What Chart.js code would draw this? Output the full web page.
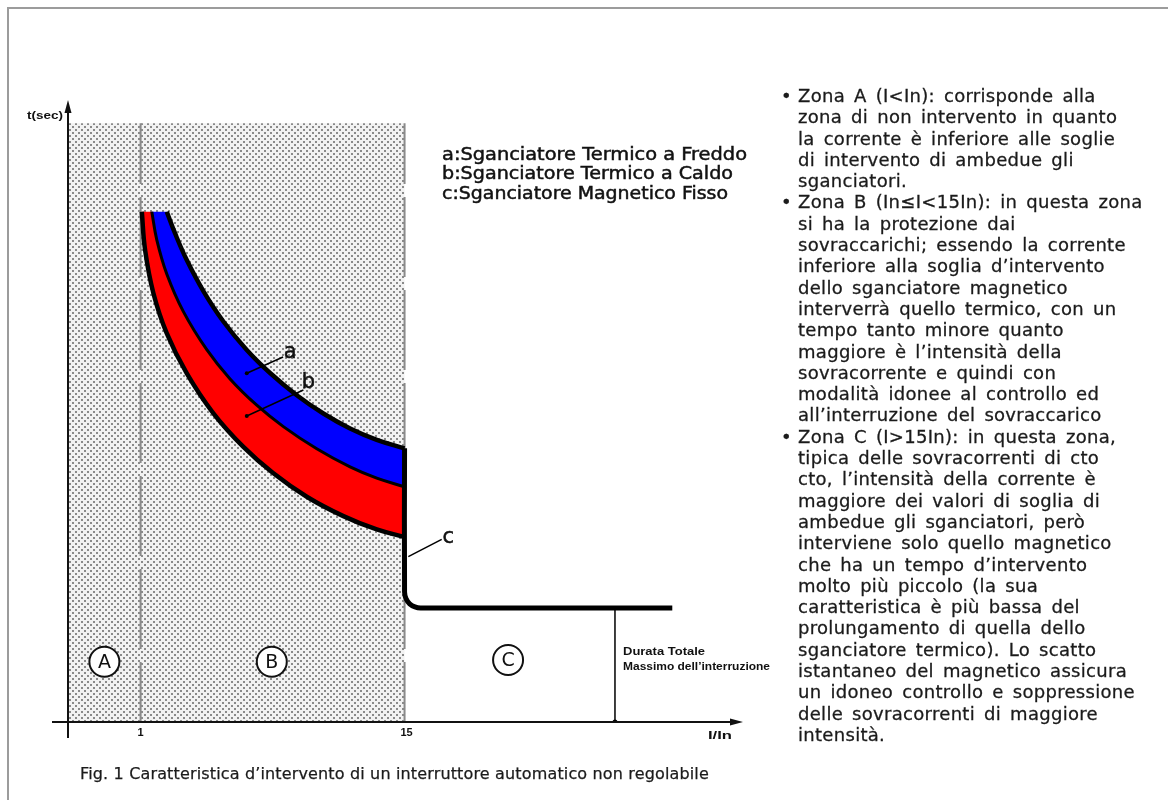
<!DOCTYPE html>
<html>
<head>
<meta charset="utf-8">
<script src="https://cdn.jsdelivr.net/npm/chart.js@4.4.0/dist/chart.umd.min.js"></script>
<style>
  html, body { margin: 0; padding: 0; background: #fff; }
  #wrap { position: relative; width: 1168px; height: 800px; overflow: hidden; }
  #cornice { position: absolute; left: 7px; top: 7px; width: 1200px; height: 900px;
             border-top: 2px solid #9c9c9c; border-left: 2px solid #9c9c9c; }
  #grafico { position: absolute; left: 0; top: 0; }
  #note { position: absolute; left: 798px; top: 85px; font: 18px "DejaVu Sans";
          line-height: 21.3px; color: #1b1b1b; white-space: nowrap;
          word-spacing: 3px; letter-spacing: 0.3px; -webkit-text-stroke: 0.3px #1b1b1b; }
  #note .p { position: relative; }
  #note .p::before { content: "\2022"; position: absolute; left: -17px; }
  #didascalia { position: absolute; left: 80px; top: 764px; font: 16px "DejaVu Sans";
                letter-spacing: 0.15px; color: #1b1b1b; white-space: nowrap;
                -webkit-text-stroke: 0.25px #1b1b1b; }
</style>
</head>
<body>
<div id="wrap">
  <div id="cornice"></div>
  <canvas id="grafico" width="1168" height="800"></canvas>
  <div id="note">
    <div class="p">Zona A (I&lt;In): corrisponde alla</div>
    <div>zona di non intervento in quanto</div>
    <div>la corrente è inferiore alle soglie</div>
    <div>di intervento di ambedue gli</div>
    <div>sganciatori.</div>
    <div class="p">Zona B (In≤I&lt;15In): in questa zona</div>
    <div>si ha la protezione dai</div>
    <div>sovraccarichi; essendo la corrente</div>
    <div>inferiore alla soglia d’intervento</div>
    <div>dello sganciatore magnetico</div>
    <div>interverrà quello termico, con un</div>
    <div>tempo tanto minore quanto</div>
    <div>maggiore è l’intensità della</div>
    <div>sovracorrente e quindi con</div>
    <div>modalità idonee al controllo ed</div>
    <div>all’interruzione del sovraccarico</div>
    <div class="p">Zona C (I&gt;15In): in questa zona,</div>
    <div>tipica delle sovracorrenti di cto</div>
    <div>cto, l’intensità della corrente è</div>
    <div>maggiore dei valori di soglia di</div>
    <div>ambedue gli sganciatori, però</div>
    <div>interviene solo quello magnetico</div>
    <div>che ha un tempo d’intervento</div>
    <div>molto più piccolo (la sua</div>
    <div>caratteristica è più bassa del</div>
    <div>prolungamento di quella dello</div>
    <div>sganciatore termico). Lo scatto</div>
    <div>istantaneo del magnetico assicura</div>
    <div>un idoneo controllo e soppressione</div>
    <div>delle sovracorrenti di maggiore</div>
    <div>intensità.</div>
  </div>
  <div id="didascalia">Fig. 1 Caratteristica d’intervento di un interruttore automatico non regolabile</div>
</div>
<script>
// valori (x = I/In, y = tempo in unità dello schema, 0..100)
const xTicks = [1, 15];
const xTickLabels = ['1', '15'];

// bordo superiore fascia a (termico a freddo)
const bordoSupX = [2.389, 2.830, 3.450, 4.330, 5.391, 6.632, 7.868, 9.283, 10.694, 12.110, 13.526, 15.0];
const bordoSupY = [82.04, 78.54, 74.26, 69.28, 64.39, 59.82, 56.11, 52.54, 49.60, 47.20, 45.37, 44.00];
// confine tra fascia a e fascia b
const bordoMedX = [1.594, 1.859, 2.389, 3.270, 4.511, 5.746, 7.162, 8.573, 10.344, 12.110, 13.526, 15.0];
const bordoMedY = [82.04, 77.52, 72.03, 65.98, 59.86, 55.16, 50.93, 47.49, 43.92, 41.01, 39.20, 37.83];
// bordo inferiore fascia b (termico a caldo)
const bordoInfX = [1.064, 1.239, 1.679, 2.389, 3.450, 4.861, 6.452, 8.043, 9.814, 11.755, 13.526, 15.0];
const bordoInfY = [82.04, 75.88, 68.94, 62.48, 56.05, 49.63, 44.23, 39.98, 36.22, 33.10, 30.95, 29.74];
// c: sganciatore magnetico
const magnetX = [15.0, 15.0, 15.08, 15.27, 15.55, 15.85, 29.2];
const magnetY = [44.0, 20.9, 19.8, 19.0, 18.5, 18.33, 18.33];
// durata totale massima dell'interruzione
const durataX = [26.16, 26.16];
const durataY = [18.33, 0];

// zona tratteggiata (A + B)
const zonaX = [-2.85, -2.85, 15, 15];
const zonaY = [0, 96.25, 96.25, 0];
const limiteY = [0, 96.25];

// richiami a, b, c
const richiamoA_X = [6.632, 8.557], richiamoA_Y = [56.06, 58.68];
const richiamoB_X = [6.632, 9.633], richiamoB_Y = [49.20, 53.38];
const richiamoC_X = [15.20, 16.97], richiamoC_Y = [26.58, 29.37];
const etichette = ['a', 'b', 'c'];
const etichetteX = [8.928, 9.90, 17.32];
const etichetteY = [59.28, 54.45, 29.53];

// zone A, B, C
const zone = ['A', 'B', 'C'];
const zoneX = [-0.92, 7.958, 20.49];
const zoneY = [9.69, 9.69, 9.97];

const legenda = [
    'a:Sganciatore Termico a Freddo',
    'b:Sganciatore Termico a Caldo',
    'c:Sganciatore Magnetico Fisso'
];

const pts = (xs, ys) => xs.map((x, i) => ({ x: x, y: ys[i] }));
const rev = a => a.slice().reverse();

// fascia chiusa fra due bordi: gli estremi doppi tengono gli spigoli vivi
function banda(x1, y1, x2, y2) {
    const n = x1.length - 1, m = x2.length - 1;
    return pts(x1.concat([x1[n], x2[m]], rev(x2)), y1.concat([y1[n], y2[m]], rev(y2)));
}

function puntinato() {
    const c = document.createElement('canvas');
    c.width = 6; c.height = 6;
    const g = c.getContext('2d');
    g.fillStyle = '#f2f2f2';
    g.fillRect(0, 0, 6, 6);
    g.fillStyle = '#8a8a8a';
    g.fillRect(0, 0, 2, 2);
    g.fillRect(3, 3, 2, 2);
    return g.createPattern(c, 'repeat');
}

function fitText(ctx, s, x, y, w, spessore) {
    const m = ctx.measureText(s).width;
    ctx.save();
    ctx.translate(x, y);
    ctx.scale(w / m, 1);
    if (spessore) {
        ctx.lineWidth = spessore;
        ctx.strokeText(s, 0, 0);
    }
    ctx.fillText(s, 0, 0);
    ctx.restore();
}

const testi = {
    id: 'testi',
    afterDatasetsDraw(chart) {
        const { ctx, scales: { x, y } } = chart;
        const px = v => x.getPixelForValue(v);
        const py = v => y.getPixelForValue(v);
        ctx.save();

        // assi
        ctx.strokeStyle = '#111';
        ctx.fillStyle = '#111';
        ctx.lineWidth = 2;
        ctx.beginPath();
        ctx.moveTo(px(x.min) - 16, py(0));
        ctx.lineTo(px(x.max) - 8, py(0));
        ctx.moveTo(px(x.min), py(0) + 16);
        ctx.lineTo(px(x.min), py(y.max) + 8);
        ctx.stroke();
        ctx.beginPath();
        ctx.moveTo(px(x.max), py(0));
        ctx.lineTo(px(x.max) - 13, py(0) - 3.5);
        ctx.lineTo(px(x.max) - 13, py(0) + 3.5);
        ctx.fill();
        ctx.beginPath();
        ctx.moveTo(px(x.min), py(y.max));
        ctx.lineTo(px(x.min) - 3.5, py(y.max) + 13);
        ctx.lineTo(px(x.min) + 3.5, py(y.max) + 13);
        ctx.fill();

        // etichette assi
        ctx.textBaseline = 'middle';
        ctx.font = 'bold 11px "Liberation Sans"';
        ctx.textAlign = 'center';
        xTicks.forEach((v, i) => ctx.fillText(xTickLabels[i], px(v) + (i ? 2 : 0), py(0) + 11));
        ctx.textAlign = 'left';
        fitText(ctx, 't(sec)', 27, 116, 36);
        fitText(ctx, 'I/In', 708, 736, 24);

        // richiami a b c
        ctx.textAlign = 'center';
        ctx.lineWidth = 0.5;
        ctx.font = '21px "DejaVu Sans"';
        etichette.forEach((s, i) => {
            ctx.fillText(s, px(etichetteX[i]), py(etichetteY[i]) - 1);
            ctx.strokeText(s, px(etichetteX[i]), py(etichetteY[i]) - 1);
        });

        // lettere delle zone
        ctx.font = '19px "DejaVu Sans"';
        zone.forEach((s, i) => ctx.fillText(s, px(zoneX[i]), py(zoneY[i]) + 1));

        // legenda
        ctx.textAlign = 'left';
        ctx.font = '18px "DejaVu Sans"';
        const larg = [305, 291, 286];
        legenda.forEach((s, i) => fitText(ctx, s, 442, 155 + i * 19.5, larg[i], 0.5));

        // durata totale
        ctx.font = 'bold 10px "Liberation Sans"';
        fitText(ctx, 'Durata Totale', 623, 652, 82);
        fitText(ctx, 'Massimo dell’interruzione', 623, 667, 147);

        ctx.restore();
    }
};

const canvas = document.getElementById('grafico');
const pattern = puntinato();

const linea = (xs, ys, w, extra) => Object.assign({
    data: pts(xs, ys),
    borderColor: '#000',
    borderWidth: w,
    pointRadius: 0,
    fill: false,
    tension: 0,
    order: 5
}, extra || {});

new Chart(canvas, {
    type: 'line',
    data: {
        datasets: [
            { label: 'zona', data: pts(zonaX, zonaY), fill: 'shape', backgroundColor: pattern,
              borderColor: 'transparent', borderWidth: 0, pointRadius: 0, tension: 0, order: 20 },
            linea([1, 1], limiteY, 2, { borderColor: '#8a8a8a', borderDash: [80, 13], borderDashOffset: 20, order: 15 }),
            linea([15, 15], limiteY, 2, { borderColor: '#8a8a8a', borderDash: [80, 13], borderDashOffset: 20, order: 15 }),
            { label: 'a', data: banda(bordoSupX, bordoSupY, bordoMedX, bordoMedY),
              fill: 'shape', backgroundColor: '#0000ff', borderColor: 'transparent', borderWidth: 0,
              pointRadius: 0, tension: 0.4, order: 12 },
            { label: 'b', data: banda(bordoMedX, bordoMedY, bordoInfX, bordoInfY),
              fill: 'shape', backgroundColor: '#ff0000', borderColor: 'transparent', borderWidth: 0,
              pointRadius: 0, tension: 0.4, order: 12 },
            linea(bordoSupX, bordoSupY, 4.5, { tension: 0.4 }),
            linea(bordoMedX, bordoMedY, 3, { tension: 0.4 }),
            linea(bordoInfX, bordoInfY, 4.5, { tension: 0.4 }),
            linea(magnetX, magnetY, 5, { tension: 0.3, borderJoinStyle: 'round', order: 4 }),
            linea(durataX, durataY, 1.5, { pointRadius: c => c.dataIndex === 1 ? 2.5 : 0,
                  pointBackgroundColor: '#000', pointBorderWidth: 0, order: 3 }),
            linea(richiamoA_X, richiamoA_Y, 1.5, { pointRadius: c => c.dataIndex === 0 ? 2 : 0,
                  pointBackgroundColor: '#000', pointBorderWidth: 0, order: 3 }),
            linea(richiamoB_X, richiamoB_Y, 1.5, { pointRadius: c => c.dataIndex === 0 ? 2 : 0,
                  pointBackgroundColor: '#000', pointBorderWidth: 0, order: 3 }),
            linea(richiamoC_X, richiamoC_Y, 1.5, { order: 3 }),
            { label: 'zone', data: pts(zoneX, zoneY), showLine: false, pointRadius: 15,
              pointBackgroundColor: '#fff', pointBorderColor: '#111', pointBorderWidth: 2, order: 1 }
        ]
    },
    options: {
        responsive: false,
        animation: false,
        layout: { padding: { left: 68, right: 425, top: 100, bottom: 78 } },
        scales: {
            x: { type: 'linear', min: -2.85, max: 32.95, display: false },
            y: { type: 'linear', min: 0, max: 100, display: false }
        },
        plugins: { legend: { display: false }, tooltip: { enabled: false } }
    },
    plugins: [testi]
});
</script>
</body>
</html>
